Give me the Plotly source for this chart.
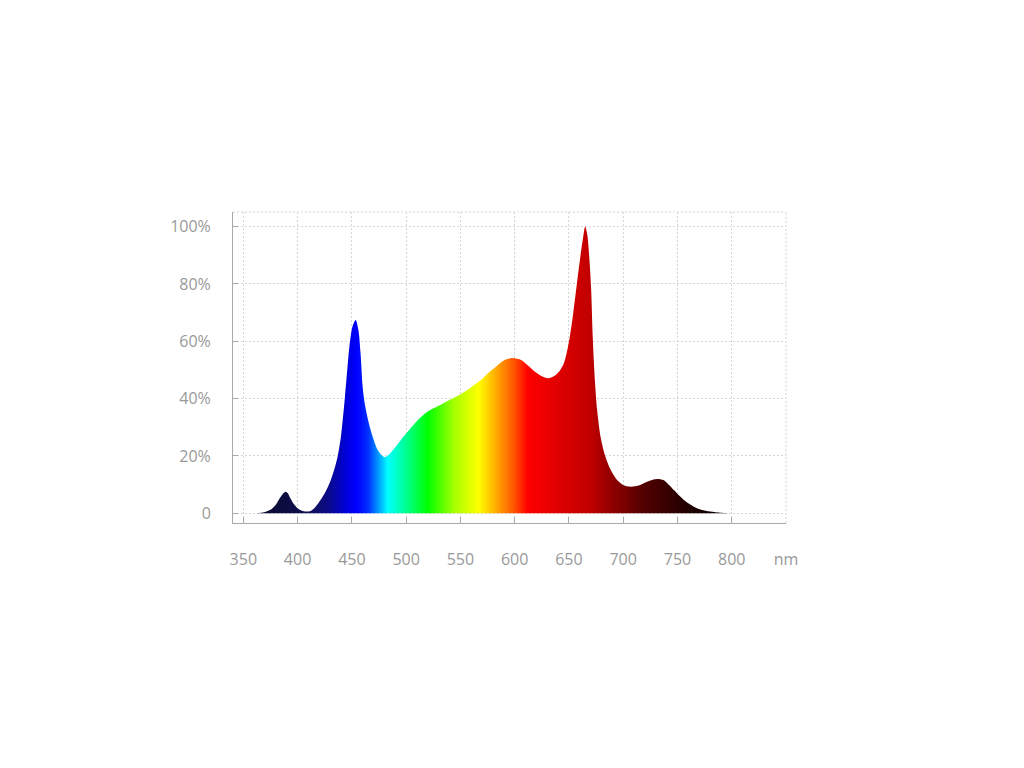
import plotly.graph_objects as go

# Spectrum data (wavelength nm, relative intensity %)
wavelength = [362, 366, 370, 375, 380, 384, 387, 389, 391, 393, 396, 400, 404, 408, 412, 416, 420,
              425, 430, 434, 437, 440, 443.5, 446, 448, 450.5, 453.5, 456, 458, 460, 462, 465,
              469, 474, 480, 485, 490, 495, 500, 506, 512, 520, 530, 540, 550, 560, 568, 576,
              583, 590, 598, 606, 613, 620, 626, 631, 636, 641, 645, 648, 651, 654, 657, 660, 663,
              665, 667, 669, 670.5, 672, 674, 676, 679, 683, 688, 694, 700, 707, 715, 722, 728,
              733, 737, 742, 747, 752, 758, 765, 772, 780, 790, 800]
intensity = [0, 0.2, 0.5, 1.2, 3, 5.5, 7, 7.5, 7, 5.5, 3.5, 1.8, 0.9, 0.6, 0.8, 2, 4,
             7, 11, 15.5, 20, 27, 40, 51, 59, 65, 67.4, 64, 56, 44, 38, 32.5,
             27, 22, 19.6, 20.8, 23, 25.5, 27.8, 30.5, 33, 35.5, 37.5, 39.5, 41.5, 44, 46.2, 49,
             51.2, 53.3, 54.2, 53.5, 51.3, 49, 47.6, 47.1, 47.8, 49.5, 52, 56, 62, 70, 79, 88, 96,
             100, 97, 88, 78, 61, 46, 36, 27, 20.5, 15.5, 11.8, 9.9, 9.3, 9.8, 11, 11.8,
             12, 11.6, 10, 8, 6, 4, 2.3, 1.2, 0.6, 0.2, 0]

# Colour stops by wavelength
color_nm = [362, 395, 410, 430, 445, 455, 465, 475, 483, 500, 520, 545, 567, 585, 600, 612,
            640, 670, 690, 720, 760, 800]
color_hex = ["#0a0a30", "#0d0d45", "#10104f", "#0a0a90", "#0000dd", "#0000ff", "#0030ff",
             "#00a0ff", "#00ffff", "#00ff90", "#00ff00", "#aaff00", "#ffff00", "#ffa000",
             "#ff5000", "#ff0000", "#e00000", "#c00000", "#900000", "#500000", "#200000", "#000000"]

x_ticks = [350, 400, 450, 500, 550, 600, 650, 700, 750, 800, 850]
x_ticktext = ["350", "400", "450", "500", "550", "600", "650", "700", "750", "800", "nm"]
y_ticks = [0, 20, 40, 60, 80, 100]
y_ticktext = ["0", "20%", "40%", "60%", "80%", "100%"]

lo, hi = color_nm[0], color_nm[-1]
colorscale = [[(w - lo) / (hi - lo), c] for w, c in zip(color_nm, color_hex)]

fig = go.Figure()
fig.add_trace(go.Scatter(
    x=wavelength, y=intensity, mode="lines",
    line=dict(width=0, shape="spline", smoothing=0.8),
    fill="tozeroy",
    fillgradient=dict(type="horizontal", colorscale=colorscale, start=lo, stop=hi),
    hoverinfo="skip", showlegend=False,
))

grid_color = "#d6d6d6"
grid_dash = "2px,2px"
axis_color = "#a8a8a8"
font_color = "#999999"

fig.update_layout(
    width=1024, height=768,
    margin=dict(l=225, r=246, t=204, b=253),
    paper_bgcolor="white", plot_bgcolor="white",
    font=dict(family="Open Sans", size=16, color=font_color),
    xaxis=dict(
        range=[340.5, 850], tickvals=x_ticks, ticktext=x_ticktext,
        showgrid=True, gridcolor=grid_color, griddash=grid_dash, gridwidth=1,
        zeroline=False, showline=True, linecolor=axis_color, linewidth=1,
        ticks="inside", ticklen=6, tickcolor=axis_color,
        ticklabelstandoff=22, tickfont=dict(size=16, color=font_color),
    ),
    yaxis=dict(
        range=[-3.38, 105.1], tickvals=y_ticks, ticktext=y_ticktext,
        showgrid=True, gridcolor=grid_color, griddash=grid_dash, gridwidth=1,
        zeroline=False, showline=True, linecolor=axis_color, linewidth=1,
        ticks="inside", ticklen=5, tickcolor=axis_color,
        ticklabelstandoff=18, tickfont=dict(size=16, color=font_color),
    ),
    shapes=[
        dict(type="line", xref="paper", yref="paper", x0=0, x1=1, y0=1, y1=1,
             line=dict(color=grid_color, width=1, dash=grid_dash), layer="below"),
        dict(type="line", xref="paper", yref="paper", x0=1, x1=1, y0=0, y1=1,
             line=dict(color=grid_color, width=1, dash=grid_dash), layer="below"),
    ],
)

fig.write_html("out.html")
